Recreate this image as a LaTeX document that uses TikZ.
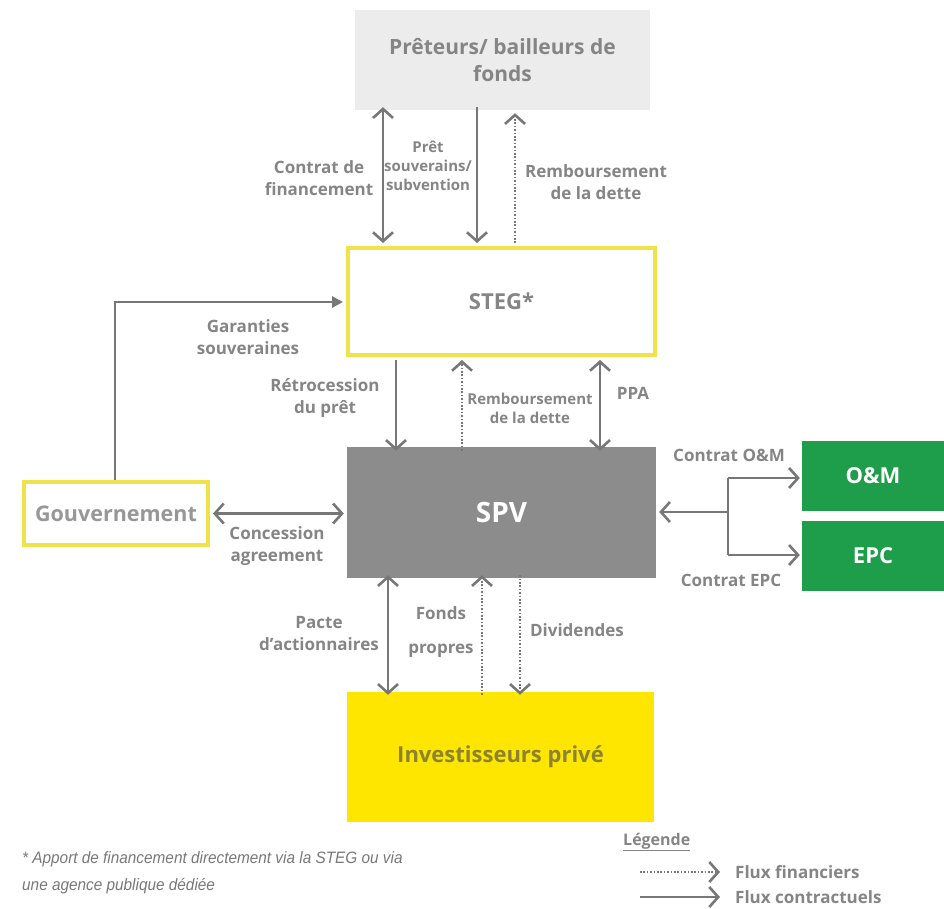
\documentclass[tikz,border=0pt]{standalone}
\usepackage{fontspec}
\setmainfont{Open Sans}
\newfontfamily\notefont[FakeStretch=0.93]{Liberation Sans}
\usetikzlibrary{arrows.meta}
\definecolor{lblgray}{HTML}{858585}
\definecolor{arrgray}{HTML}{777777}
\definecolor{boxgray}{HTML}{ECECEC}
\definecolor{spvgray}{HTML}{8C8C8C}
\definecolor{yelline}{HTML}{EFE24A}
\definecolor{yelfill}{HTML}{FFE600}
\definecolor{olivetxt}{HTML}{8A8330}
\definecolor{grn}{HTML}{1E9E4A}
\tikzset{
  box/.style={rectangle, inner sep=0pt, align=center, font=\bfseries\fontsize{21}{27}\selectfont, text=lblgray},
  ybox/.style={box, draw=yelline, line width=4pt, fill=white},
  gbox/.style={box, fill=grn, text=white, font=\bfseries\fontsize{22}{26}\selectfont},
  lbl/.style={align=center, inner sep=0pt, text=lblgray, font=\bfseries\fontsize{17}{22}\selectfont},
  slbl/.style={lbl, font=\bfseries\fontsize{15}{19}\selectfont},
  tipb/.tip={Straight Barb[length=9pt,width=20pt,line width=2.6pt]},
  tipt/.tip={Triangle[length=11pt,width=11pt]},
  cflow/.style={draw=arrgray, line width=2.8pt, -tipb},
  dflow/.style={draw=arrgray, line width=2.6pt, dash pattern=on 1.6pt off 1.8pt, -tipb},
  both/.style={draw=arrgray, line width=2.8pt, tipb-tipb},
}
\begin{document}
\begin{tikzpicture}[x=1pt,y=-1pt]
\useasboundingbox (0,0) rectangle (944,908);
% boxes
\node[box, fill=boxgray, minimum width=295pt, minimum height=100pt] (pret) at (502.5,60) {Prêteurs/ bailleurs de\\fonds};
\node[ybox, minimum width=307pt, minimum height=107pt] (steg) at (501.5,301.5) {\fontsize{22}{26}\selectfont STEG*};
\node[box, fill=spvgray, text=white, minimum width=309pt, minimum height=131pt, font=\bfseries\fontsize{28}{32}\selectfont] (spv) at (501.5,512.5) {SPV};
\node[box, fill=yelfill, text=olivetxt, minimum width=307pt, minimum height=130pt, font=\bfseries\fontsize{22}{26}\selectfont] (inv) at (500.5,757) {Investisseurs privé};
\node[ybox, minimum width=184pt, minimum height=63pt, text=lblgray!85] (gov) at (116,513.5) {\fontsize{21.5}{24}\selectfont Gouvernement};
\node[gbox, minimum width=142pt, minimum height=70pt] (om) at (873,476) {O\&M};
\node[gbox, minimum width=142pt, minimum height=70pt] (epc) at (873,556) {EPC};
% top arrows
\draw[both] ([yshift=3pt]383,0 |- pret.south) -- ([yshift=3pt]383,0 |- steg.north);
\draw[cflow] ([yshift=3pt]477,0 |- pret.south) -- ([yshift=3pt]477,0 |- steg.north);
\draw[dflow] ([yshift=3pt]515,0 |- steg.north) -- ([yshift=-3pt]515,0 |- pret.south);
\node[lbl] (l1) at (319,178) {Contrat de\\financement};
\node[slbl] (l2) at (428,166) {Prêt\\souverains/\\subvention};
\node[lbl] (l3) at (596,182) {Remboursement\\de la dette};
% garanties
\coordinate (gcorner) at (115,302);
\draw[draw=arrgray, line width=2.8pt, -tipt] (gov.north -| gcorner) -- (gcorner) -- ([xshift=-3pt]gcorner -| steg.west);
\node[lbl] (l4) at (248,337) {Garanties\\souveraines};
% STEG - SPV
\draw[cflow] ([yshift=-3pt]396,0 |- steg.south) -- ([yshift=-4pt]396,0 |- spv.north);
\draw[dflow] ([yshift=-4pt]462,0 |- spv.north) -- ([yshift=-3pt]462,0 |- steg.south);
\draw[both] ([yshift=-3pt]600,0 |- steg.south) -- ([yshift=-4pt]600,0 |- spv.north);
\node[lbl] (l5) at (325,398) {Rétrocession\\du prêt};
\node[slbl] (l6) at (530,408) {Remboursement\\de la dette};
\node[lbl] (l7) at (633,393) {PPA};
% gouvernement - SPV
\draw[both] ([xshift=3pt]gov.east) -- ([xshift=-3pt]spv.west |- gov.east);
\node[lbl] (l8) at (277,546) {Concession\\agreement};
% SPV - O&M / EPC
\coordinate (br) at (728,512);
\coordinate (brt) at (728,478);
\coordinate (brb) at (728,555);
\draw[cflow] (br) -- ([xshift=3pt]spv.east |- br);
\draw[draw=arrgray, line width=2.8pt] (brt) -- (brb);
\draw[cflow] (brt) -- ([xshift=-2pt]om.west |- brt);
\draw[cflow] (brb) -- ([xshift=-2pt]epc.west |- brb);
\node[lbl] (l9) at (729,455) {Contrat O\&M};
\node[lbl] (l10) at (731,580) {Contrat EPC};
% SPV - investisseurs
\draw[both] ([yshift=3pt]388,0 |- spv.south) -- ([yshift=-3pt]388,0 |- inv.north);
\draw[dflow] ([yshift=-3pt]482,0 |- inv.north) -- ([yshift=3pt]482,0 |- spv.south);
\draw[dflow] ([yshift=3pt]520,0 |- spv.south) -- ([yshift=-3pt]520,0 |- inv.north);
\node[lbl] (l11) at (319,634) {Pacte\\d'actionnaires};
\node[lbl, font=\bfseries\fontsize{17}{34}\selectfont] (l12) at (441,632) {Fonds\\propres};
\node[lbl] (l13) at (577,630) {Dividendes};
% footnote
\node[anchor=west, inner sep=0pt, text=lblgray!90!black, align=left, font=\notefont\itshape\fontsize{16.5}{27}\selectfont] (note) at (22,873) {* Apport de financement directement via la STEG ou via\\une agence publique dédiée};
% legend
\node[anchor=west, inner sep=0pt, text=lblgray, font=\bfseries\fontsize{16}{18}\selectfont] (leg) at (623,842) {\underline{Légende}};
\coordinate (d1) at (640,872);
\coordinate (d2) at (720,872);
\coordinate (c1) at (640,897);
\coordinate (c2) at (720,897);
\draw[dflow] (d1) -- (d2);
\draw[cflow] (c1) -- (c2);
\node[lbl, anchor=west] (lf) at (735,872) {Flux financiers};
\node[lbl, anchor=west] (lc) at (735,897) {Flux contractuels};
\end{tikzpicture}
\end{document}
